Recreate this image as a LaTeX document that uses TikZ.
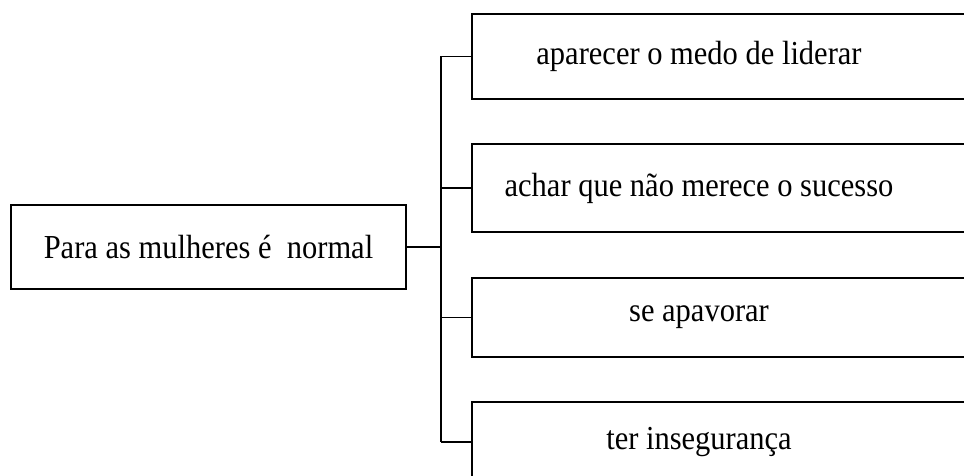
\documentclass[tikz,border=0pt]{standalone}
\usepackage{fontspec}
\setmainfont{Liberation Serif}
\newcommand{\tallt}[1]{\scalebox{1}[1.1]{#1}}
\tikzset{
  box/.style={draw, line width=1.8pt, rectangle, inner sep=0pt},
  lbl/.style={font=\fontsize{30.5}{36}\selectfont},
  link/.style={line width=1.8pt}
}
\begin{document}
\begin{tikzpicture}[x=1pt,y=-1pt]
\useasboundingbox (0,0) rectangle (964,476);
\node[box, minimum width=395pt, minimum height=84pt, lbl] (a) at (208.5,247) {\tallt{Para as mulheres é\ \ normal}};
\node[box, minimum width=498pt, minimum height=85pt, label={[lbl,xshift=-22pt]center:\tallt{aparecer o medo de liderar}}] (b1) at (721,56.5) {};
\node[box, minimum width=498pt, minimum height=88pt, label={[lbl,xshift=-22pt]center:\tallt{achar que não merece o sucesso}}] (b2) at (721,188) {};
\node[box, minimum width=498pt, minimum height=79pt, label={[lbl,xshift=-22pt]center:\tallt{se apavorar}}] (b3) at (721,317.5) {};
\node[box, minimum width=498pt, minimum height=80pt, label={[lbl,xshift=-22pt]center:\tallt{ter insegurança}}] (b4) at (721,442) {};
\coordinate (bt) at (441,56.5);
\coordinate (bb) at (441,442);
\draw[link] (bt) -- (bb);
\draw[link] (a.east) -- (a.east -| bt);
\draw[link] (b1.west) -- (bt);
\draw[link] (b2.west) -- (b2.west -| bt);
\draw[link] (b3.west) -- (b3.west -| bt);
\draw[link] (b4.west) -- (bb);
\end{tikzpicture}
\end{document}
